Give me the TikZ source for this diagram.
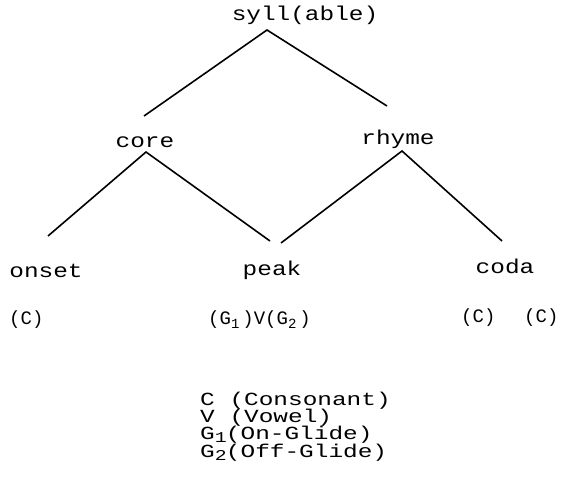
\documentclass[tikz,border=0pt]{standalone}
\usepackage{fontspec}
% widened typewriter face for the tree labels
\newfontfamily\typefont[FakeStretch=1.22]{Liberation Mono}
% wider, lower typewriter face for the key
\newfontfamily\keyfont[FakeStretch=1.32]{Liberation Mono}
% plain typewriter face for the segment slots
\newfontfamily\slotfont{Liberation Mono}
% subscript digit, lowered, filling one character slot
\newcommand\slotsub[1]{\makebox[0.6em][l]{\raisebox{-0.45ex}{\fontsize{14}{14}\selectfont #1}}}
\newcommand\legsub[1]{\makebox[0.6em][l]{\raisebox{-0.35ex}{\fontsize{15}{15}\selectfont #1}}}
\begin{document}
\begin{tikzpicture}[x=1pt,y=-1pt,
  lbl/.style={font=\typefont\fontsize{20}{20}\selectfont, inner sep=0pt, anchor=base},
  sml/.style={font=\slotfont\fontsize{19}{19}\selectfont, inner sep=0pt, anchor=base west},
  leg/.style={font=\keyfont\fontsize{18.5}{18.5}\selectfont, inner sep=0pt,
    text height=12pt, text depth=3pt, anchor=base west},
  branch/.style={line width=1.6pt}]
\useasboundingbox (0,0) rectangle (564,489);

% tree labels
\node[lbl] (syll)  at (305,21)  {syll(able)};
\node[lbl] (core)  at (145,148) {core};
\node[lbl] (rhyme) at (398,145) {rhyme};
\node[lbl] (onset) at (46,277)  {onset};
\node[lbl] (peak)  at (272,275) {peak};
\node[lbl] (coda)  at (505,273) {coda};

% segment slots
\node[sml] (onsetC)  at (9,324)   {(C)};
\node[sml] (peakGVG) at (208,324) {(G\slotsub{1})V(G\slotsub{2})};
\node[sml] (codaC1)  at (461,322) {(C)};
\node[sml] (codaC2)  at (524,322) {(C)};

% key
\node[leg] (keyC)  at (200,405) {C (Consonant)};
\node[leg] (keyV)  at (200,422) {V (Vowel)};
\node[leg] (keyG1) at (200,439.5) {G\legsub{1}(On-Glide)};
\node[leg] (keyG2) at (200,457) {G\legsub{2}(Off-Glide)};

% branch points
\coordinate (syll-apex)  at (267,30);
\coordinate (syll-l)     at (144,116);
\coordinate (syll-r)     at (387,106);
\coordinate (core-apex)  at (146,152);
\coordinate (core-l)     at (48,236);
\coordinate (core-r)     at (270,241);
\coordinate (rhyme-apex) at (402,151);
\coordinate (rhyme-l)    at (281,243);
\coordinate (rhyme-r)    at (502,241);

% branches
\draw[branch] (syll-l) -- (syll-apex) -- (syll-r);
\draw[branch] (core-l) -- (core-apex) -- (core-r);
\draw[branch] (rhyme-l) -- (rhyme-apex) -- (rhyme-r);
\end{tikzpicture}
\end{document}
